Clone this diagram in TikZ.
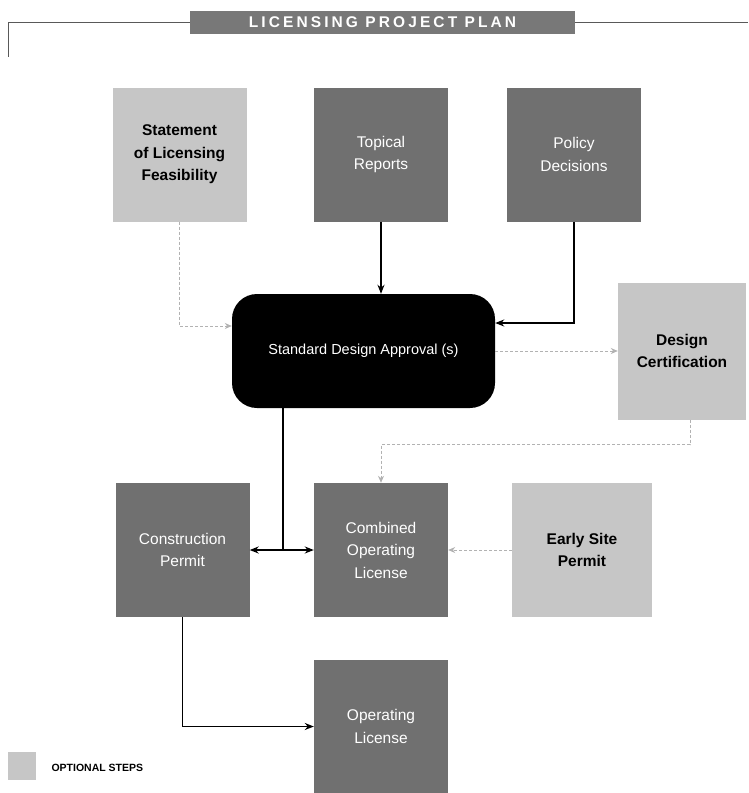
\documentclass[tikz,border=0pt]{standalone}
\usepackage{fontspec}
\usetikzlibrary{arrows.meta}
\setmainfont{Liberation Sans}
\newfontfamily\bannerfont[LetterSpace=20]{Liberation Sans}
\definecolor{reqgray}{HTML}{707070}
\definecolor{optgray}{HTML}{C6C6C6}
\definecolor{bannergray}{HTML}{787878}

\begin{document}
\begin{tikzpicture}[x=1pt, y=-1pt,
    box/.style={minimum width=134pt, minimum height=134pt, inner sep=0pt,
                align=center, font=\fontsize{15.5}{22.5}\selectfont},
    req/.style={box, fill=reqgray, text=white},
    opt/.style={box, fill=optgray, text=black,
                font=\fontsize{15.5}{22.5}\selectfont\bfseries},
    arr/.style={-{Stealth[length=9pt, width=7pt]}, line width=1.8pt},
    optarr/.style={-{Stealth[length=7pt, width=6pt]}, densely dashed, line width=1pt, gray!60}
  ]
  \useasboundingbox (0,0) rectangle (748,793);

  % banner and frame line
  \node[fill=bannergray, minimum width=385pt, minimum height=23pt, text=white,
        font=\bannerfont\bfseries\fontsize{15.5}{17}\selectfont] (title) at (382.5,22) {LICENSING PROJECT PLAN};
  \coordinate (frameL) at (8,57);
  \coordinate (frameR) at (748,22);
  \draw[gray!70!black, line width=1pt] (title.west) -| (frameL);
  \draw[gray!70!black, line width=1pt] (title.east) -- (frameR);

  % top row
  \node[opt] (stmt)   at (179.5,154.5) {Statement\\of Licensing\\Feasibility};
  \node[req] (topic)  at (381,154.5)   {Topical\\Reports};
  \node[req] (policy) at (574,154.5)   {Policy\\Decisions};

  % middle
  \node[fill=black, text=white, rounded corners=25pt, minimum width=263pt,
        minimum height=114pt, font=\fontsize{14.5}{22}\selectfont] (sda) at (363.5,351) {Standard Design Approval (s)};
  \node[opt, minimum width=128pt, minimum height=137pt] (dcert) at (682,351) {Design\\Certification};

  % lower rows
  \node[req] (cp)  at (182.5,550) {Construction\\Permit};
  \node[req] (col) at (381,550)   {Combined\\Operating\\License};
  \node[opt, minimum width=140pt] (esp) at (582,550) {Early Site\\Permit};
  \node[req] (ol)  at (381,726.5) {Operating\\License};

  % legend
  \node[fill=optgray, minimum width=28pt, minimum height=28pt, inner sep=0pt] (legbox) at (22,766) {};
  \node[anchor=west, font=\fontsize{10.5}{12}\selectfont\bfseries] (legtext) at (48,768) {OPTIONAL STEPS};

  % connectors
  \coordinate (junc) at (283,550);
  \draw[optarr] (stmt.south) |- ([yshift=25pt]sda.west);
  \draw[arr] (topic.south) -- (topic.south |- sda.north);
  \draw[arr] (policy.south) |- ([yshift=28pt]sda.east);
  \draw[optarr] (sda.east) -- (dcert.west);
  \draw[optarr] ([xshift=8pt]dcert.south) -- ++(0,25) -| (col.north);
  \draw[line width=1.8pt] ([xshift=-80.5pt]sda.south) -- (junc);
  \draw[arr, {Stealth[length=9pt, width=7pt]}-{Stealth[length=9pt, width=7pt]}] (cp) -- (col);
  \draw[optarr] (esp) -- (col);
  \draw[arr] (cp.south) |- (ol.west);
\end{tikzpicture}
\end{document}
